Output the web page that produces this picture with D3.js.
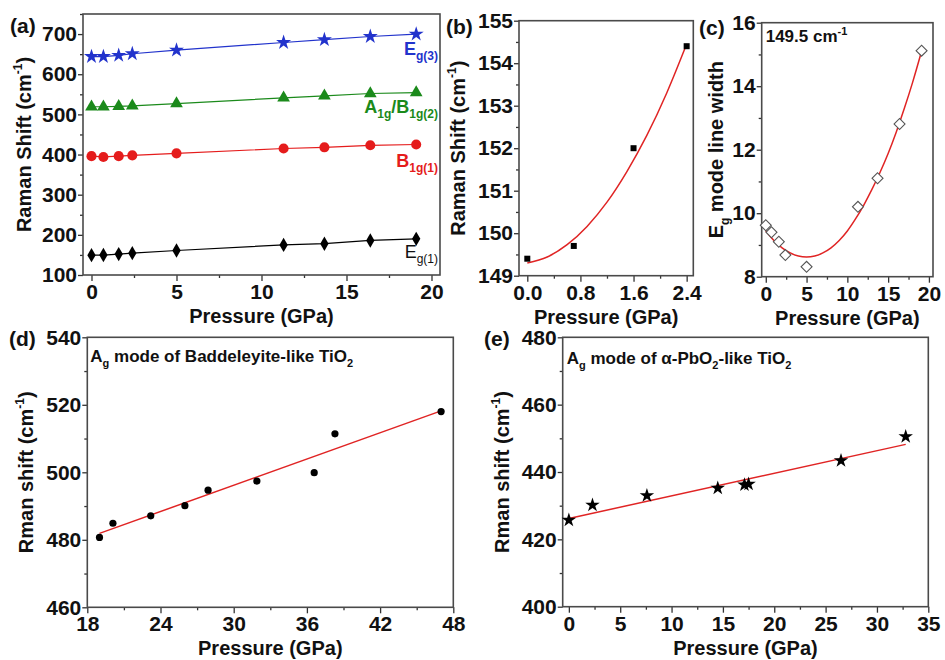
<!DOCTYPE html>
<html>
<head>
<meta charset="utf-8">
<script src="https://cdn.jsdelivr.net/npm/d3@7"></script>
<style>
  body { margin: 0; background: #fff; }
  svg { font-family: "Liberation Sans", Arial, sans-serif; font-weight: bold; }
  .axis text { font-size: 21px; font-weight: bold; fill: #111; }
  .axis path, .axis line { stroke: #333; stroke-width: 1.3; }
</style>
</head>
<body>
<svg id="chart" width="945" height="660"></svg>
<script>
// panel (a) - pressure points shared with (c)
var pressureA = [0, 0.7, 1.6, 2.4, 5.0, 11.3, 13.7, 16.4, 19.1];
var eg1 = [149.4, 149.7, 152.0, 154.4, 161, 175, 178, 186, 190];
var b1g1 = [396, 394, 396, 398, 403, 415, 418, 423, 425];
var a1gB1g2 = [519, 519, 520, 521, 527, 541, 546, 552, 554];
var eg3 = [644, 644, 647, 651, 660, 679, 686, 694, 700];

// panel (b)
var pressureB = [0, 0.7, 1.6, 2.4];
var shiftB = [149.4, 149.7, 152.0, 154.4];
var fitBx = [0, 0.3, 0.6, 0.9, 1.2, 1.5, 1.8, 2.1, 2.4];
var fitBy = [149.30, 149.44, 149.73, 150.16, 150.73, 151.45, 152.30, 153.30, 154.45];

// panel (c)
var widthC = [9.62, 9.40, 9.10, 8.68, 8.31, 10.2, 11.1, 12.81, 15.12];
var fitCx = [0, 1, 2, 3, 4, 5, 6, 7, 8, 9, 10, 11, 12, 13, 14, 15, 16, 17, 18, 19.1];
var fitCy = [9.45, 9.14, 8.91, 8.75, 8.65, 8.62, 8.65, 8.75, 8.91, 9.14, 9.44, 9.82, 10.25, 10.74, 11.28, 11.88, 12.56, 13.31, 14.12, 15.10];

// panel (d)
var pressureD = [19.0, 20.1, 23.2, 26.0, 27.9, 31.9, 36.6, 38.3, 47.0];
var shiftD = [480.7, 484.9, 487.1, 490.1, 494.7, 497.4, 499.9, 511.4, 518.0];
var fitDx = [19, 47];
var fitDy = [481.9, 518.2];

// panel (e)
var pressureE = [0, 2.3, 7.6, 14.5, 17.1, 17.5, 26.5, 32.8];
var shiftE = [425.7, 430.2, 433.0, 435.2, 436.2, 436.4, 443.4, 450.5];
var fitEx = [0, 32.8];
var fitEy = [426.2, 448.2];

var svg = d3.select("#chart");
var red = "#e02424";

function zip(xs, ys) {
  return xs.map(function (x, i) { return [x, ys[i]]; });
}

// draw frame + axes of one panel, return scales
function panel(p) {
  var g = svg.append("g").attr("transform", "translate(" + p.left + "," + p.top + ")");
  var w = p.right - p.left, h = p.bottom - p.top;
  var x = d3.scaleLinear().domain(p.xDomain).range([0, w]);
  var y = d3.scaleLinear().domain(p.yDomain).range([h, 0]);

  // minor ticks
  g.append("g").attr("class", "axis").attr("transform", "translate(0," + h + ")")
    .call(d3.axisBottom(x).tickValues(p.xMinor).tickSize(3).tickFormat("").tickSizeOuter(0));
  g.append("g").attr("class", "axis")
    .call(d3.axisLeft(y).tickValues(p.yMinor).tickSize(3).tickFormat("").tickSizeOuter(0));

  g.append("g").attr("class", "axis").attr("transform", "translate(0," + h + ")")
    .call(d3.axisBottom(x).tickValues(p.xTicks).tickSize(6).tickPadding(3)
      .tickFormat(p.xFormat || d3.format("d")).tickSizeOuter(0));
  g.append("g").attr("class", "axis")
    .call(d3.axisLeft(y).tickValues(p.yTicks).tickSize(5).tickPadding(1)
      .tickFormat(p.yFormat || d3.format("d")).tickSizeOuter(0));

  g.selectAll(".axis .domain").remove();
  g.append("rect").attr("width", w).attr("height", h)
    .attr("fill", "none").attr("stroke", "#4a4a4a").attr("stroke-width", 1.6);

  // panel letter
  svg.append("text").attr("x", p.letterX).attr("y", p.letterY)
    .attr("font-size", 21).attr("fill", "#111").text(p.letter);

  // x title
  g.append("text").attr("x", w / 2).attr("y", h + 48).attr("text-anchor", "middle")
    .attr("font-size", 20).attr("fill", "#111").text("Pressure (GPa)");

  // y title
  var yt = g.append("text")
    .attr("transform", "translate(" + p.yTitleX + "," + (h / 2) + ") rotate(-90)")
    .attr("text-anchor", "middle").attr("font-size", 20).attr("fill", "#111");
  p.yTitle.forEach(function (part) {
    var t = yt.append("tspan").text(part.t);
    if (part.sup) t.attr("font-size", 12).attr("dy", -9);
    if (part.sub) t.attr("font-size", 12).attr("dy", 6);
    if (part.back) t.attr("dy", part.back);
  });

  return { g: g, x: x, y: y };
}

function range(a, b, s) { return d3.range(a, b + s / 2, s); }

var star = d3.symbol().type(d3.symbolStar);
var cm1 = [{ t: "Raman Shift (cm" }, { t: "-1", sup: true }, { t: ")", back: 9 }];

// ---------- (a)
var A = panel({
  left: 83, top: 14, right: 440, bottom: 275,
  xDomain: [-0.5, 20.5], yDomain: [100, 750],
  xTicks: range(0, 20, 5), xMinor: range(2.5, 17.5, 5),
  yTicks: range(100, 700, 100), yMinor: range(150, 750, 100),
  letter: "(a)", letterX: 10, letterY: 33, yTitleX: -52, yTitle: cm1
});

var seriesA = [
  { ys: eg3, color: "#2233cc", sym: d3.symbolStar, size: 70 },
  { ys: a1gB1g2, color: "#1b8a1b", sym: d3.symbolTriangle, size: 70 },
  { ys: b1g1, color: "#e51c1c", sym: d3.symbolCircle, size: 80 },
  { ys: eg1, color: "#000", sym: d3.symbolDiamond, size: 60 }
];
seriesA.forEach(function (s) {
  var pts = zip(pressureA, s.ys);
  A.g.append("path").datum(pts)
    .attr("d", d3.line().x(function (d) { return A.x(d[0]); }).y(function (d) { return A.y(d[1]); }))
    .attr("fill", "none").attr("stroke", s.color).attr("stroke-width", 1.2);
  A.g.selectAll(null).data(pts).enter().append("path")
    .attr("transform", function (d) { return "translate(" + A.x(d[0]) + "," + A.y(d[1]) + ")"; })
    .attr("d", d3.symbol().type(s.sym).size(s.size))
    .attr("fill", s.color);
});

// series labels in (a)
function modeLabel(g, xr, yb, color, parts, weight) {
  var t = g.append("text").attr("x", xr).attr("y", yb).attr("text-anchor", "end")
    .attr("fill", color).attr("font-size", 18).attr("font-weight", weight || "bold");
  parts.forEach(function (p) {
    var s = t.append("tspan").text(p.t);
    if (p.sub) s.attr("font-size", 12).attr("dy", p.dy || 5);
    if (p.up) s.attr("dy", p.up);
  });
}
modeLabel(A.g, 355, 41, "#2233cc", [{ t: "E" }, { t: "g(3)", sub: true }]);
modeLabel(A.g, 355, 99, "#1b8a1b", [{ t: "A" }, { t: "1g", sub: true }, { t: "/B", up: -5 }, { t: "1g(2)", sub: true }]);
modeLabel(A.g, 355, 153, "#e51c1c", [{ t: "B" }, { t: "1g(1)", sub: true }]);
modeLabel(A.g, 355, 244, "#111", [{ t: "E" }, { t: "g(1)", sub: true }], "normal");

// ---------- (b)
var B = panel({
  left: 519, top: 20.7, right: 693.3, bottom: 275.7,
  xDomain: [-0.125, 2.5], yDomain: [149, 155],
  xTicks: [0, 0.8, 1.6, 2.4], xMinor: [0.4, 1.2, 2.0],
  yTicks: range(149, 155, 1), yMinor: range(149.5, 154.5, 1),
  xFormat: d3.format(".1f"),
  letter: "(b)", letterX: 446, letterY: 34, yTitleX: -54, yTitle: cm1
});
B.g.append("path").datum(zip(fitBx, fitBy))
  .attr("d", d3.line().curve(d3.curveMonotoneX)
    .x(function (d) { return B.x(d[0]); }).y(function (d) { return B.y(d[1]); }))
  .attr("fill", "none").attr("stroke", red).attr("stroke-width", 1.5);
B.g.selectAll(null).data(zip(pressureB, shiftB)).enter().append("rect")
  .attr("x", function (d) { return B.x(d[0]) - 3; })
  .attr("y", function (d) { return B.y(d[1]) - 3; })
  .attr("width", 6).attr("height", 6).attr("fill", "#000");

// ---------- (c)
var C = panel({
  left: 761.7, top: 22.7, right: 933, bottom: 276.7,
  xDomain: [-0.5, 20.5], yDomain: [8, 16],
  xTicks: range(0, 20, 5), xMinor: range(2.5, 17.5, 5),
  yTicks: range(8, 16, 2), yMinor: range(9, 15, 2),
  letter: "(c)", letterX: 699, letterY: 35, yTitleX: -39,
  yTitle: [{ t: "E" }, { t: "g", sub: true }, { t: " mode line width", back: -6 }]
});
C.g.append("path").datum(zip(fitCx, fitCy))
  .attr("d", d3.line().curve(d3.curveMonotoneX)
    .x(function (d) { return C.x(d[0]); }).y(function (d) { return C.y(d[1]); }))
  .attr("fill", "none").attr("stroke", red).attr("stroke-width", 1.5);
C.g.selectAll(null).data(zip(pressureA, widthC)).enter().append("path")
  .attr("d", d3.symbol().type(d3.symbolSquare).size(60))
  .attr("transform", function (d) { return "translate(" + C.x(d[0]) + "," + C.y(d[1]) + ") rotate(45)"; })
  .attr("fill", "#fff").attr("stroke", "#555").attr("stroke-width", 1.1);
var cl = C.g.append("text").attr("x", 4).attr("y", 19).attr("font-size", 17).attr("fill", "#111");
cl.append("tspan").text("149.5 cm");
cl.append("tspan").attr("font-size", 11).attr("dy", -7).text("-1");

// ---------- (d)
var rmanTitle = [{ t: "Rman shift (cm" }, { t: "-1", sup: true }, { t: ")", back: 9 }];
var D = panel({
  left: 87.3, top: 337.3, right: 453.3, bottom: 607.3,
  xDomain: [18, 48], yDomain: [460, 540],
  xTicks: range(18, 48, 6), xMinor: range(21, 45, 6),
  yTicks: range(460, 540, 20), yMinor: range(470, 530, 20),
  letter: "(d)", letterX: 9, letterY: 346, yTitleX: -54, yTitle: rmanTitle
});
D.g.append("path").datum(zip(fitDx, fitDy))
  .attr("d", d3.line().x(function (d) { return D.x(d[0]); }).y(function (d) { return D.y(d[1]); }))
  .attr("fill", "none").attr("stroke", red).attr("stroke-width", 1.5);
D.g.selectAll(null).data(zip(pressureD, shiftD)).enter().append("circle")
  .attr("cx", function (d) { return D.x(d[0]); })
  .attr("cy", function (d) { return D.y(d[1]); })
  .attr("r", 3.6).attr("fill", "#000");
var dl = D.g.append("text").attr("x", 3).attr("y", 25).attr("font-size", 17).attr("fill", "#111");
dl.append("tspan").text("A");
dl.append("tspan").attr("font-size", 11).attr("dy", 5).text("g");
dl.append("tspan").attr("dy", -5).text(" mode of Baddeleyite-like TiO");
dl.append("tspan").attr("font-size", 11).attr("dy", 5).text("2");

// ---------- (e)
var E = panel({
  left: 562.7, top: 337.3, right: 928.3, bottom: 606.7,
  xDomain: [-0.6, 35], yDomain: [400, 480],
  xTicks: range(0, 35, 5), xMinor: range(2.5, 32.5, 5),
  yTicks: range(400, 480, 20), yMinor: range(410, 470, 20),
  letter: "(e)", letterX: 484, letterY: 346, yTitleX: -54, yTitle: rmanTitle
});
E.g.append("path").datum(zip(fitEx, fitEy))
  .attr("d", d3.line().x(function (d) { return E.x(d[0]); }).y(function (d) { return E.y(d[1]); }))
  .attr("fill", "none").attr("stroke", red).attr("stroke-width", 1.5);
E.g.selectAll(null).data(zip(pressureE, shiftE)).enter().append("path")
  .attr("transform", function (d) { return "translate(" + E.x(d[0]) + "," + E.y(d[1]) + ")"; })
  .attr("d", star.size(65)).attr("fill", "#000");
var el = E.g.append("text").attr("x", 4).attr("y", 27).attr("font-size", 17).attr("fill", "#111");
el.append("tspan").text("A");
el.append("tspan").attr("font-size", 11).attr("dy", 5).text("g");
el.append("tspan").attr("dy", -5).text(" mode of \u03b1-PbO");
el.append("tspan").attr("font-size", 11).attr("dy", 5).text("2");
el.append("tspan").attr("dy", -5).text("-like TiO");
el.append("tspan").attr("font-size", 11).attr("dy", 5).text("2");
</script>
</body>
</html>
